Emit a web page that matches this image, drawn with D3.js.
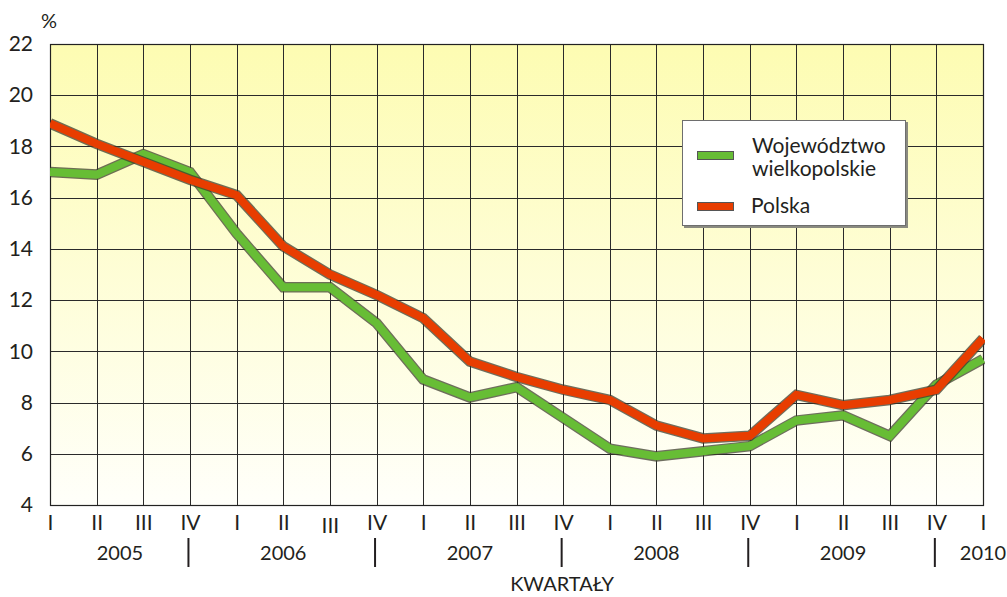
<!DOCTYPE html>
<html>
<head>
<meta charset="utf-8">
<script src="https://cdn.jsdelivr.net/npm/d3@7"></script>
<style>
  body { margin: 0; background: #fff; }
  text { font-family: Lato, "Open Sans", sans-serif; fill: #231f20; }
</style>
</head>
<body>
<div class="canvas"></div>
<script>
// Quarters 2005 Q1 .. 2010 Q1
var quarters = ['I','II','III','IV','I','II','III','IV','I','II','III','IV','I','II','III','IV','I','II','III','IV','I'];
var years = ['2005','2006','2007','2008','2009','2010'];
var yTicks = [4, 6, 8, 10, 12, 14, 16, 18, 20, 22];

var wielkopolskie = [17.0, 16.9, 17.7, 17.0, 14.6, 12.5, 12.5, 11.1, 8.9, 8.2, 8.6, 7.4, 6.2, 5.9, 6.1, 6.3, 7.3, 7.5, 6.7, 8.7, 9.7];
var polska = [18.9, 18.1, 17.4, 16.7, 16.1, 14.1, 13.0, 12.2, 11.3, 9.6, 9.0, 8.5, 8.1, 7.1, 6.6, 6.7, 8.3, 7.9, 8.1, 8.5, 10.5];

// layout: centre of each year label and year separators, in quarter index units
var yearCentre = [1.5, 5, 9, 13, 17, 20];
var separators = [3, 7, 11, 15, 19];

var W = 1007, H = 597;
var margin = { top: 44, right: 24, bottom: 92, left: 50 };
var gw = W - margin.left - margin.right;
var gh = H - margin.top - margin.bottom;

var svg = d3.select('.canvas').append('svg').attr('width', W).attr('height', H);

var defs = svg.append('defs');
var grad = defs.append('linearGradient').attr('id', 'bg').attr('x1', 0).attr('y1', 0).attr('x2', 0).attr('y2', 1);
grad.append('stop').attr('offset', '0%').attr('stop-color', '#fdfcb2');
grad.append('stop').attr('offset', '100%').attr('stop-color', '#fffffa');

var graph = svg.append('g').attr('transform', 'translate(' + margin.left + ', ' + margin.top + ')');

var x = d3.scaleLinear().domain([0, quarters.length - 1]).range([0, gw]);
var y = d3.scaleLinear().domain([4, 22]).range([gh, 0]);

graph.append('rect').attr('width', gw).attr('height', gh).attr('fill', 'url(#bg)');

// grid
graph.selectAll('.hgrid').data(yTicks).enter().append('line')
  .attr('x1', 0).attr('x2', gw)
  .attr('y1', function (d) { return Math.round(y(d)) + 0.5; })
  .attr('y2', function (d) { return Math.round(y(d)) + 0.5; })
  .attr('stroke', '#2a2a2a').attr('stroke-width', 1);

graph.selectAll('.vgrid').data(quarters).enter().append('line')
  .attr('y1', 0).attr('y2', gh)
  .attr('x1', function (d, i) { return Math.round(x(i)) + 0.5; })
  .attr('x2', function (d, i) { return Math.round(x(i)) + 0.5; })
  .attr('stroke', '#2a2a2a').attr('stroke-width', 1);

// frame
graph.append('rect').attr('x', 0.5).attr('y', 0.5).attr('width', gw).attr('height', gh)
  .attr('fill', 'none').attr('stroke', '#222').attr('stroke-width', 1.2);

// y axis labels
var yAxis = d3.axisLeft(y).tickValues(yTicks).tickSize(0).tickPadding(17);
var yAxisGroup = graph.append('g').call(yAxis);
yAxisGroup.select('.domain').remove();
yAxisGroup.selectAll('text').style('font-size', '21px').attr('fill', '#231f20')
  .style('font-family', 'Lato, sans-serif');

// x axis quarter labels
var xAxis = d3.axisBottom(x).tickValues(d3.range(quarters.length)).tickSize(0).tickPadding(10)
  .tickFormat(function (i) { return quarters[i]; });
var xAxisGroup = graph.append('g').attr('transform', 'translate(0, ' + gh + ')').call(xAxis);
xAxisGroup.select('.domain').remove();
xAxisGroup.selectAll('text').style('font-size', '21px').attr('fill', '#231f20')
  .style('font-family', 'Lato, sans-serif')
  .attr('dy', function (d) { return d === 6 ? '0.87em' : '0.71em'; });

// year labels and separators
graph.selectAll('.year').data(years).enter().append('text')
  .attr('x', function (d, i) { return x(yearCentre[i]); })
  .attr('y', gh + 55)
  .attr('text-anchor', 'middle')
  .style('font-size', '20px')
  .text(function (d) { return d; });

graph.selectAll('.sep').data(separators).enter().append('line')
  .attr('x1', function (d) { return x(d) - 1.5; })
  .attr('x2', function (d) { return x(d) - 1.5; })
  .attr('y1', gh + 33).attr('y2', gh + 62)
  .attr('stroke', '#231f20').attr('stroke-width', 2);

svg.append('text').attr('x', 562).attr('y', 591).attr('text-anchor', 'middle')
  .style('font-size', '20px').text('KWARTAŁY');

svg.append('text').attr('x', 41).attr('y', 28).style('font-size', '20px').text('%');

// lines
var line = d3.line()
  .x(function (d, i) { return x(i); })
  .y(function (d) { return y(d); });

var series = [
  { values: wielkopolskie, color: '#67bd35' },
  { values: polska, color: '#e83d00' }
];

var clip = defs.append('clipPath').attr('id', 'plotclip');
clip.append('rect').attr('x', 0).attr('y', 0).attr('width', gw + 2).attr('height', gh);

var lines = graph.append('g').attr('clip-path', 'url(#plotclip)');
// draw green first, then red, each with dark outline
series.forEach(function (s) {
  lines.append('path').datum(s.values).attr('d', line)
    .attr('fill', 'none').attr('stroke', '#3d3d2d').attr('stroke-width', 10.5)
    .attr('stroke-linejoin', 'miter').attr('stroke-opacity', 0.75);
  lines.append('path').datum(s.values).attr('d', line)
    .attr('fill', 'none').attr('stroke', s.color).attr('stroke-width', 8)
    .attr('stroke-linejoin', 'miter');
});

// legend
var legend = svg.append('g').attr('transform', 'translate(682, 120)');
legend.append('rect').attr('x', 2).attr('y', 2).attr('width', 224).attr('height', 106).attr('fill', '#8a8a80');
legend.append('rect').attr('x', 0.5).attr('y', 0.5).attr('width', 223).attr('height', 105)
  .attr('fill', '#fff').attr('stroke', '#6e6e6e').attr('stroke-width', 1);

legend.append('rect').attr('x', 15.5).attr('y', 31.5).attr('width', 36).attr('height', 8)
  .attr('fill', series[0].color).attr('stroke', '#555').attr('stroke-width', 1);
legend.append('rect').attr('x', 15.5).attr('y', 82.5).attr('width', 36).attr('height', 8)
  .attr('fill', series[1].color).attr('stroke', '#555').attr('stroke-width', 1);

legend.append('text').attr('x', 70).attr('y', 33).style('font-size', '21px').text('Województwo');
legend.append('text').attr('x', 70).attr('y', 56).style('font-size', '21px').text('wielkopolskie');
legend.append('text').attr('x', 69).attr('y', 93).style('font-size', '21px').text('Polska');
</script>
</body>
</html>
